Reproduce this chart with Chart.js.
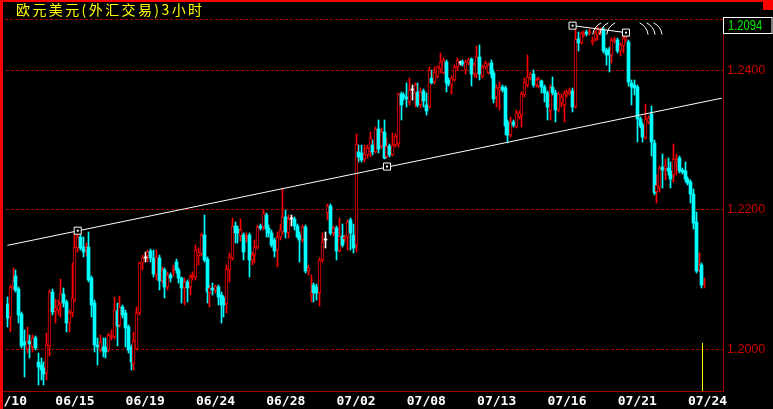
<!DOCTYPE html>
<html><head><meta charset="utf-8">
<script src="https://cdn.jsdelivr.net/npm/chart.js@4.4.0/dist/chart.umd.min.js"></script>
<style>html,body{margin:0;padding:0;background:#000;overflow:hidden}</style>
</head><body>
<canvas id="c" width="773" height="409"></canvas>
<script>
const title = '欧元美元(外汇交易)3小时';
const slotCount = 255;
const tickSlots = [0, 24, 49, 74, 99, 124, 149, 174, 199, 224, 249];
const tickLabels = ['06/10', '06/15', '06/19', '06/24', '06/28', '07/02', '07/08', '07/13', '07/16', '07/21', '07/24'];
const yTicks = [1.20, 1.22, 1.24];
const yMin = 1.19402, yMax = 1.24721;

const open = [
1.2065,1.2046,1.2089,1.2105,1.2087,1.2051,1.2011,1.2000,1.2012,1.2003,
1.2016,1.1982,1.1978,1.1973,1.1966,1.2005,1.2082,1.2055,1.2056,1.2065,
1.2079,1.2068,1.2038,1.2052,1.2071,1.2145,1.2161,1.2147,1.2143,1.2147,
1.2102,1.2067,1.2006,1.1999,1.2003,1.2003,1.1999,1.2018,1.2018,1.2055,
1.2035,1.2061,1.2052,1.2032,1.2003,1.1979,1.2000,1.2052,1.2124,1.2131,
1.2134,1.2141,1.2131,1.2107,1.2131,1.2098,1.2114,1.2089,1.2107,1.2112,
1.2125,1.2114,1.2102,1.2088,1.2097,1.2089,1.2104,1.2104,1.2134,1.2137,
1.2164,1.2130,1.2081,1.2088,1.2085,1.2089,1.2078,1.2074,1.2065,1.2114,
1.2131,1.2177,1.2173,1.2163,1.2164,1.2160,1.2164,1.2128,1.2135,1.2147,
1.2177,1.2176,1.2193,1.2174,1.2167,1.2157,1.2143,1.2161,1.2168,1.2190,
1.2167,1.2187,1.2187,1.2177,1.2164,1.2157,1.2176,1.2112,1.2078,1.2092,
1.2089,1.2081,1.2128,1.2157,1.2196,1.2206,1.2167,1.2174,1.2141,1.2163,
1.2158,1.2161,1.2186,1.2164,1.2150,1.2283,1.2282,1.2273,1.2279,1.2283,
1.2293,1.2283,1.2316,1.2292,1.2312,1.2276,1.2292,1.2279,1.2293,1.2295,
1.2366,1.2365,1.2362,1.2355,1.2372,1.2368,1.2369,1.2350,1.2371,1.2350,
1.2348,1.2389,1.2383,1.2391,1.2402,1.2396,1.2412,1.2386,1.2379,1.2386,
1.2404,1.2411,1.2412,1.2401,1.2411,1.2416,1.2394,1.2394,1.2419,1.2392,
1.2405,1.2396,1.2411,1.2396,1.2361,1.2372,1.2376,1.2375,1.2326,1.2307,
1.2326,1.2319,1.2333,1.2336,1.2365,1.2379,1.2389,1.2395,1.2379,1.2378,
1.2385,1.2376,1.2368,1.2342,1.2376,1.2368,1.2343,1.2353,1.2350,1.2365,
1.2368,1.2371,1.2348,1.2445,1.2439,1.2451,1.2455,1.2454,1.2441,1.2445,
1.2451,1.2454,1.2458,1.2429,1.2431,1.2422,1.2442,1.2444,1.2428,1.2435,
1.2444,1.2441,1.2382,1.2379,1.2376,1.2330,1.2322,1.2303,1.2326,1.2338,
1.2296,1.2226,1.2233,1.2262,1.2259,1.2260,1.2256,1.2250,1.2269,1.2274,
1.2257,1.2256,1.2244,1.2240,1.2223,1.2183,1.2114,1.2121,1.2093
];
const high = [
1.2075,1.2092,1.2117,1.2114,1.2089,1.2054,1.2028,1.2032,1.2021,1.2021,
1.2019,1.1995,1.1988,1.1982,1.2024,1.2085,1.2087,1.2072,1.2071,1.2101,
1.2088,1.2071,1.2056,1.2124,1.2167,1.2167,1.2164,1.2161,1.2153,1.2168,
1.2105,1.2071,1.2016,1.2021,1.2016,1.2016,1.2024,1.2028,1.2075,1.2067,
1.2077,1.2064,1.2056,1.2035,1.2006,1.2025,1.2061,1.2125,1.2135,1.2140,
1.2143,1.2144,1.2143,1.2143,1.2135,1.2118,1.2117,1.2111,1.2110,1.2121,
1.2130,1.2117,1.2104,1.2102,1.2099,1.2107,1.2111,1.2150,1.2145,1.2167,
1.2193,1.2132,1.2092,1.2095,1.2092,1.2092,1.2082,1.2077,1.2121,1.2138,
1.2188,1.2183,1.2177,1.2187,1.2167,1.2167,1.2167,1.2140,1.2157,1.2178,
1.2180,1.2200,1.2196,1.2178,1.2171,1.2160,1.2168,1.2180,1.2230,1.2200,
1.2193,1.2193,1.2190,1.2180,1.2168,1.2178,1.2178,1.2121,1.2107,1.2095,
1.2094,1.2131,1.2167,1.2168,1.2209,1.2209,1.2177,1.2177,1.2188,1.2180,
1.2164,1.2186,1.2188,1.2180,1.2309,1.2293,1.2293,1.2293,1.2293,1.2312,
1.2300,1.2319,1.2329,1.2317,1.2329,1.2303,1.2295,1.2310,1.2309,1.2368,
1.2369,1.2368,1.2382,1.2389,1.2379,1.2382,1.2382,1.2375,1.2373,1.2368,
1.2404,1.2401,1.2404,1.2406,1.2425,1.2418,1.2415,1.2389,1.2392,1.2408,
1.2418,1.2414,1.2415,1.2415,1.2418,1.2418,1.2411,1.2435,1.2436,1.2408,
1.2414,1.2411,1.2415,1.2401,1.2379,1.2383,1.2379,1.2378,1.2329,1.2333,
1.2329,1.2343,1.2342,1.2369,1.2389,1.2422,1.2398,1.2401,1.2389,1.2391,
1.2386,1.2379,1.2371,1.2379,1.2391,1.2372,1.2369,1.2366,1.2371,1.2372,
1.2375,1.2375,1.2458,1.2455,1.2455,1.2457,1.2458,1.2459,1.2448,1.2457,
1.2462,1.2461,1.2462,1.2432,1.2434,1.2447,1.2448,1.2447,1.2439,1.2449,
1.2451,1.2444,1.2386,1.2386,1.2379,1.2333,1.2325,1.2352,1.2335,1.2349,
1.2300,1.2250,1.2263,1.2280,1.2273,1.2274,1.2269,1.2295,1.2280,1.2277,
1.2260,1.2269,1.2247,1.2243,1.2230,1.2197,1.2138,1.2124,1.2102
];
const low = [
1.2032,1.2025,1.2085,1.2082,1.2038,1.2002,1.1960,1.1995,1.1988,1.1996,
1.1999,1.1949,1.1956,1.1949,1.1956,1.1990,1.2049,1.2038,1.2049,1.2046,
1.2061,1.2025,1.2025,1.2046,1.2068,1.2140,1.2143,1.2132,1.2134,1.2097,
1.2046,1.1996,1.1978,1.1996,1.1989,1.1988,1.1996,1.2013,1.2015,1.2005,
1.2032,1.2045,1.2003,1.1995,1.1970,1.1970,1.1999,1.2049,1.2114,1.2125,
1.2125,1.2125,1.2104,1.2099,1.2085,1.2095,1.2074,1.2085,1.2097,1.2105,
1.2110,1.2095,1.2067,1.2064,1.2068,1.2078,1.2099,1.2099,1.2121,1.2134,
1.2125,1.2067,1.2061,1.2078,1.2081,1.2064,1.2038,1.2046,1.2052,1.2097,
1.2128,1.2153,1.2153,1.2155,1.2128,1.2154,1.2104,1.2121,1.2124,1.2144,
1.2171,1.2171,1.2161,1.2161,1.2147,1.2132,1.2118,1.2157,1.2165,1.2160,
1.2160,1.2177,1.2171,1.2160,1.2125,1.2154,1.2110,1.2107,1.2068,1.2068,
1.2071,1.2062,1.2125,1.2145,1.2186,1.2164,1.2163,1.2128,1.2140,1.2147,
1.2154,1.2143,1.2143,1.2138,1.2140,1.2269,1.2269,1.2269,1.2274,1.2276,
1.2279,1.2282,1.2282,1.2289,1.2273,1.2274,1.2276,1.2277,1.2290,1.2290,
1.2329,1.2358,1.2348,1.2350,1.2358,1.2348,1.2348,1.2346,1.2348,1.2336,
1.2346,1.2381,1.2381,1.2389,1.2396,1.2394,1.2369,1.2378,1.2366,1.2385,
1.2401,1.2408,1.2406,1.2394,1.2408,1.2378,1.2391,1.2389,1.2386,1.2389,
1.2402,1.2394,1.2389,1.2353,1.2348,1.2343,1.2369,1.2307,1.2296,1.2305,
1.2319,1.2317,1.2330,1.2319,1.2362,1.2376,1.2386,1.2376,1.2376,1.2375,
1.2368,1.2355,1.2329,1.2329,1.2365,1.2326,1.2340,1.2348,1.2326,1.2362,
1.2365,1.2340,1.2346,1.2428,1.2438,1.2448,1.2449,1.2451,1.2436,1.2442,
1.2444,1.2451,1.2425,1.2408,1.2398,1.2411,1.2439,1.2425,1.2421,1.2425,
1.2441,1.2378,1.2350,1.2365,1.2297,1.2317,1.2297,1.2302,1.2323,1.2277,
1.2221,1.2210,1.2226,1.2231,1.2243,1.2250,1.2231,1.2240,1.2250,1.2253,
1.2252,1.2240,1.2236,1.2210,1.2173,1.2110,1.2111,1.2088,1.2088
];
const close = [
1.2045,1.2089,1.2098,1.2085,1.2049,1.2005,1.2006,1.2012,1.2008,1.2016,
1.2002,1.1975,1.1970,1.1965,1.2006,1.2082,1.2054,1.2059,1.2064,1.2079,
1.2067,1.2038,1.2052,1.2074,1.2147,1.2161,1.2145,1.2140,1.2147,1.2099,
1.2064,1.2006,1.2003,1.2011,1.1998,1.1996,1.2021,1.2021,1.2056,1.2034,
1.2061,1.2049,1.2031,1.1999,1.1982,1.2012,1.2052,1.2124,1.2131,1.2131,
1.2140,1.2131,1.2108,1.2132,1.2098,1.2114,1.2089,1.2107,1.2102,1.2115,
1.2114,1.2102,1.2088,1.2097,1.2088,1.2104,1.2107,1.2143,1.2140,1.2164,
1.2128,1.2082,1.2088,1.2085,1.2091,1.2075,1.2064,1.2064,1.2115,1.2132,
1.2177,1.2167,1.2167,1.2171,1.2140,1.2163,1.2128,1.2135,1.2147,1.2176,
1.2174,1.2196,1.2173,1.2167,1.2150,1.2141,1.2161,1.2171,1.2190,1.2168,
1.2187,1.2187,1.2177,1.2161,1.2157,1.2176,1.2112,1.2117,1.2082,1.2081,
1.2081,1.2128,1.2154,1.2157,1.2206,1.2167,1.2174,1.2141,1.2163,1.2150,
1.2161,1.2183,1.2167,1.2145,1.2295,1.2276,1.2272,1.2280,1.2289,1.2303,
1.2283,1.2316,1.2287,1.2312,1.2274,1.2292,1.2279,1.2293,1.2306,1.2366,
1.2350,1.2361,1.2359,1.2372,1.2372,1.2379,1.2350,1.2369,1.2356,1.2342,
1.2401,1.2382,1.2398,1.2404,1.2412,1.2415,1.2382,1.2381,1.2389,1.2405,
1.2415,1.2411,1.2409,1.2412,1.2415,1.2395,1.2408,1.2419,1.2394,1.2405,
1.2411,1.2408,1.2394,1.2359,1.2375,1.2376,1.2372,1.2320,1.2307,1.2326,
1.2322,1.2339,1.2339,1.2366,1.2383,1.2391,1.2395,1.2379,1.2386,1.2388,
1.2376,1.2368,1.2348,1.2376,1.2368,1.2343,1.2366,1.2361,1.2368,1.2369,
1.2372,1.2348,1.2445,1.2439,1.2454,1.2454,1.2452,1.2457,1.2444,1.2454,
1.2459,1.2458,1.2428,1.2422,1.2422,1.2444,1.2445,1.2428,1.2436,1.2447,
1.2448,1.2383,1.2376,1.2375,1.2330,1.2320,1.2305,1.2330,1.2332,1.2297,
1.2224,1.2236,1.2260,1.2257,1.2263,1.2256,1.2244,1.2273,1.2273,1.2256,
1.2254,1.2244,1.2239,1.2223,1.2181,1.2112,1.2121,1.2092,1.2094
];

// drawn study lines (trendline, top line) and their anchor squares
const trendSlots = [0, 254], trendValues = [1.2149, 1.2360];
const topSlots = [201, 220], topValues = [1.2464, 1.2454];
const anchorSlots = [25, 135, 201, 220], anchorValues = [1.2170, 1.2262, 1.2464, 1.2454];
const arcLeftSlot = 212, arcRightSlot = 229, arcValue = 1.2462;
const cursorSlot = 247, cursorTop = 1.2009;

const RED = '#ff0000', CYAN = '#00ffff', WHITE = '#ffffff';

const labels = Array.from({length: slotCount}, (_, i) => {
  const k = tickSlots.indexOf(i); return k >= 0 ? tickLabels[k] : '';
});
const dir = open.map((o, i) => close[i] > o ? 1 : (close[i] < o ? -1 : 0));
const lineCol = dir.map(d => d > 0 ? RED : (d < 0 ? CYAN : WHITE));
const bodyFill = dir.map(d => d > 0 ? '#000000' : (d < 0 ? CYAN : WHITE));
const bodyBorderW = dir.map(d => d > 0 ? 1 : 0);
const wickData = open.map((o, i) => [low[i], high[i]]);
const bodyData = open.map((o, i) => [Math.min(o, close[i]), Math.max(o, close[i])]);
function sparse(slots, vals) {
  const a = new Array(slotCount).fill(null);
  slots.forEach((s, k) => { a[s] = vals[k]; });
  return a;
}

// snap the library-computed bar geometry to whole pixels (crisp 1px wicks / outlines)
const snap = {
  id: 'snap',
  beforeDatasetsDraw(chart) {
    chart.data.datasets.forEach((ds, i) => {
      const meta = chart.getDatasetMeta(i);
      if (meta.type !== 'bar') return;
      meta.data.forEach(el => {
        el.x = Math.floor(el.x) + 0.5;
        el.y = Math.round(el.y);
        el.base = Math.round(el.base);
      });
    });
  }
};

const frame = {
  id: 'frame',
  beforeDraw(chart) {
    const c = chart.ctx; c.save(); c.fillStyle = '#000'; c.fillRect(0, 0, chart.width, chart.height); c.restore();
  },
  afterDraw(chart) {
    const c = chart.ctx, a = chart.chartArea, xs = chart.scales.x, ys = chart.scales.y;
    c.save();
    // cursor line
    const cx = Math.round(xs.getPixelForValue(cursorSlot)) + 0.5;
    c.strokeStyle = '#ffff00'; c.lineWidth = 1;
    c.beginPath(); c.moveTo(cx, ys.getPixelForValue(cursorTop)); c.lineTo(cx, a.bottom); c.stroke();
    // arcs
    c.strokeStyle = '#ffffff';
    const ay = ys.getPixelForValue(arcValue);
    const lx = xs.getPixelForValue(arcLeftSlot), rx = xs.getPixelForValue(arcRightSlot);
    [-7, 0, 7].forEach(d => {
      c.beginPath(); c.arc(lx + d + 12, ay + 10, 16, 1.05 * Math.PI, 1.35 * Math.PI); c.stroke();
      c.beginPath(); c.arc(rx + d - 12, ay + 10, 16, 1.65 * Math.PI, 1.95 * Math.PI); c.stroke();
    });
    // frame
    c.strokeStyle = '#b00000'; c.setLineDash([3, 2]);
    c.beginPath(); c.moveTo(0, a.top - 0.5); c.lineTo(a.right, a.top - 0.5); c.stroke();
    c.setLineDash([]);
    c.strokeStyle = '#a00000';
    c.beginPath();
    c.moveTo(a.right + 0.5, a.top); c.lineTo(a.right + 0.5, a.bottom + 0.5);
    c.moveTo(0, a.bottom + 0.5); c.lineTo(a.right + 0.5, a.bottom + 0.5);
    c.stroke();
    c.fillStyle = '#ff0000';
    c.fillRect(0, 0, 3, chart.height);
    c.fillRect(0, 0, chart.width, 2);
    c.fillRect(chart.width - 10, 0, 10, 10);
    // title
    c.fillStyle = '#ffff00';
    c.font = "14px 'Noto Sans CJK SC'";
    c.letterSpacing = '2.4px';
    c.textBaseline = 'middle'; c.textAlign = 'left';
    c.fillText(title, 16, 10);
    c.letterSpacing = '0px';
    // last price box
    c.fillStyle = '#000';
    c.fillRect(a.right + 1, 17, chart.width - a.right - 2, 16);
    c.strokeStyle = '#ffffff';
    c.strokeRect(a.right + 0.5, 17.5, chart.width - a.right - 1.5, 16);
    c.fillStyle = '#00ee00';
    c.font = "14px 'Liberation Sans', sans-serif";
    c.translate(a.right + 5, 26); c.scale(0.8, 1);
    c.fillText(close[close.length - 1].toFixed(4), 0, 0);
    c.restore();
  }
};

new Chart(document.getElementById('c'), {
  type: 'bar',
  data: {
    labels: labels,
    datasets: [
      { type: 'line', data: sparse(trendSlots, trendValues), borderColor: WHITE, borderWidth: 1,
        pointRadius: 0, spanGaps: true, order: 0 },
      { type: 'line', data: sparse(topSlots, topValues), borderColor: WHITE, borderWidth: 1,
        pointRadius: 0, spanGaps: true, order: 0 },
      { type: 'line', data: sparse(anchorSlots, anchorValues), showLine: false, pointStyle: 'rect',
        pointRadius: 5, pointBorderColor: WHITE, pointBackgroundColor: '#000', pointBorderWidth: 1, order: -1 },
      { type: 'line', data: sparse(anchorSlots, anchorValues), showLine: false, pointStyle: 'rect',
        pointRadius: 1.4, pointBorderWidth: 0, pointBackgroundColor: WHITE, order: -2 },
      { data: bodyData, backgroundColor: bodyFill, borderColor: lineCol, borderWidth: bodyBorderW,
        borderSkipped: false, barThickness: 3, minBarLength: 1, grouped: false, order: 1 },
      { data: wickData, backgroundColor: lineCol, borderWidth: 0, barThickness: 1, grouped: false, order: 2 }
    ]
  },
  options: {
    responsive: false, animation: false, devicePixelRatio: 1, events: [],
    layout: { padding: { left: 3, top: 20, right: 0, bottom: 0 } },
    plugins: { legend: { display: false }, tooltip: { enabled: false } },
    scales: {
      x: {
        type: 'category', offset: true,
        grid: { display: false, drawTicks: false }, border: { display: false },
        ticks: { autoSkip: false, maxRotation: 0, minRotation: 0, color: '#ffffff', padding: 3,
          font: { family: "'DejaVu Sans Mono', monospace", size: 13, weight: 'bold' } },
        afterFit(s) { s.height = 18; s.paddingLeft = 0; s.paddingRight = 0; }
      },
      y: {
        position: 'right', min: yMin, max: yMax,
        afterBuildTicks(s) { s.ticks = yTicks.map(v => ({ value: v })); },
        grid: { color: '#b00000', lineWidth: 1, drawTicks: false },
        border: { display: false, dash: [3, 2] },
        ticks: { color: '#cc0000', padding: 4, callback: v => Number(v).toFixed(4),
          font: { family: "'Liberation Sans', sans-serif", size: 12.5 } },
        afterFit(s) { s.width = 50; }
      }
    }
  },
  plugins: [snap, frame]
});
</script>
</body></html>
